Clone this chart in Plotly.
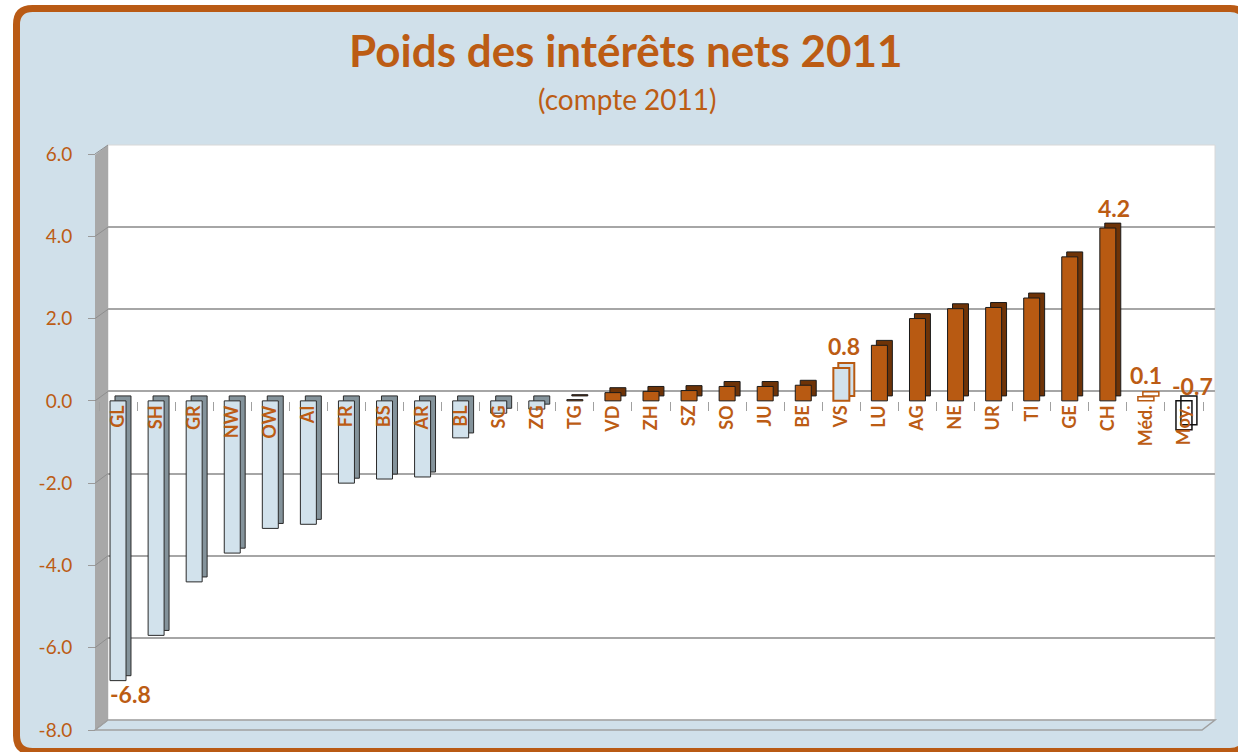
import plotly.graph_objects as go

# ---------------- data ----------------
categories = ["GL", "SH", "GR", "NW", "OW", "AI", "FR", "BS", "AR", "BL", "SG", "ZG",
              "TG", "VD", "ZH", "SZ", "SO", "JU", "BE", "VS", "LU", "AG", "NE", "UR",
              "TI", "GE", "CH", "Méd.", "Moy."]
values = [-6.8, -5.7, -4.4, -3.7, -3.1, -3.0, -2.0, -1.9, -1.85, -0.9, -0.3, -0.2,
          0.03, 0.2, 0.23, 0.25, 0.35, 0.35, 0.38, 0.8, 1.35, 2.0, 2.24, 2.27,
          2.5, 3.5, 4.2, 0.1, -0.7]
labelled = ["GL", "VS", "CH", "Méd.", "Moy."]
y_ticks = [-8, -6, -4, -2, 0, 2, 4, 6]
title = "Poids des intérêts nets 2011"
subtitle = "(compte 2011)"

# ---------------- styles ----------------
W, H = 1238, 752
ML, MR, MT, MB = 94, 23, 145, 22
PW, PH = W - ML - MR, H - MT - MB
ORANGE = "#B85A12"
ORANGE_TXT = "#BC5C14"
SIDE_OR = "#6E3307"
BLUE = "#D2E2EC"
SIDE_BL = "#84939B"
BG = "#D0E0EA"
DEPTH = 0.12
FONT = "Comic Sans MS, Lato, sans-serif"


def px_x(p):
    return (p - ML) / PW


def px_y(p):
    return (H - MB - p) / PH


front_col, side_col, line_col, line_w = [], [], [], []
for c, v in zip(categories, values):
    if c == "VS":
        front_col.append(BLUE); side_col.append(BLUE); line_col.append(ORANGE); line_w.append(2)
    elif c == "Méd.":
        front_col.append("rgba(255,255,255,0)"); side_col.append("rgba(255,255,255,0)")
        line_col.append(ORANGE); line_w.append(1.5)
    elif c == "Moy.":
        front_col.append("rgba(255,255,255,0)"); side_col.append("rgba(255,255,255,0)")
        line_col.append("#111111"); line_w.append(1.5)
    elif v < 0:
        front_col.append(BLUE); side_col.append(SIDE_BL); line_col.append("#2a2a2a"); line_w.append(1)
    else:
        front_col.append(ORANGE); side_col.append(SIDE_OR); line_col.append("#1a1a1a"); line_w.append(1)

fig = go.Figure()

# invisible trace for the back-wall grid subplot
fig.add_trace(go.Scatter(x=[0.5], y=[0], mode="markers", marker=dict(opacity=0),
                         hoverinfo="skip", showlegend=False, xaxis="x", yaxis="y"))

# side/top faces (shifted back)
fig.add_trace(go.Bar(x=categories, y=values, base=DEPTH, offset=-0.08, width=0.42,
                     marker=dict(color=side_col, line=dict(color=line_col, width=line_w)),
                     xaxis="x2", yaxis="y2", showlegend=False, hoverinfo="skip"))
# front faces
fig.add_trace(go.Bar(x=categories, y=values, offset=-0.21, width=0.42,
                     marker=dict(color=front_col, line=dict(color=line_col, width=line_w)),
                     xaxis="x2", yaxis="y2", showlegend=False))

# value labels
lab_style = {"GL": (12, -13), "VS": (3, 22), "CH": (6, 20), "Méd.": (0, 22), "Moy.": (9, 15)}
for c, v in zip(categories, values):
    if c in labelled:
        dx, dy = lab_style[c]
        yv = 0 if c == "Moy." else v
        fig.add_annotation(x=c, y=yv, xref="x2", yref="y2", text=f"{v:.1f}", showarrow=False,
                           xanchor="center", yanchor="middle", xshift=dx, yshift=dy,
                           font=dict(family=FONT, size=23, color=ORANGE_TXT, weight="bold"))

# title & subtitle
fig.add_annotation(x=px_x(626), y=px_y(50), xref="paper", yref="paper", text=title,
                   showarrow=False, xanchor="center", yanchor="middle",
                   font=dict(family=FONT, size=44, color=ORANGE_TXT, weight="bold"))
fig.add_annotation(x=px_x(627), y=px_y(99), xref="paper", yref="paper", text=subtitle,
                   showarrow=False, xanchor="center", yanchor="middle",
                   font=dict(family=FONT, size=28, color=ORANGE_TXT))

# decorative shapes
shapes = []
# outer rounded frame
L, T, R, B, r = 16.5, 8.5, 1246, 751.5, 16
path = (f"M {px_x(L+r)},{px_y(T)} L {px_x(R-r)},{px_y(T)} Q {px_x(R)},{px_y(T)} {px_x(R)},{px_y(T+r)} "
        f"L {px_x(R)},{px_y(B-r)} Q {px_x(R)},{px_y(B)} {px_x(R-r)},{px_y(B)} "
        f"L {px_x(L+r)},{px_y(B)} Q {px_x(L)},{px_y(B)} {px_x(L)},{px_y(B-r)} "
        f"L {px_x(L)},{px_y(T+r)} Q {px_x(L)},{px_y(T)} {px_x(L+r)},{px_y(T)} Z")
shapes.append(dict(type="path", path=path, xref="paper", yref="paper", layer="below",
                   fillcolor=BG, line=dict(color="#B95A14", width=7)))
# back wall
shapes.append(dict(type="rect", xref="paper", yref="paper", layer="below",
                   x0=px_x(108), x1=px_x(1215), y0=px_y(720), y1=px_y(145),
                   fillcolor="white", line=dict(color="#D8D8D8", width=1)))
# left wall
wall = (f"M {px_x(95)},{px_y(155)} L {px_x(108)},{px_y(145)} L {px_x(108)},{px_y(720)} "
        f"L {px_x(95)},{px_y(730)} Z")
shapes.append(dict(type="path", path=wall, xref="paper", yref="paper", layer="below",
                   fillcolor="#A8A8A8", line=dict(width=0)))
for t in y_ticks:
    f = (t + 8) / 14
    shapes.append(dict(type="line", xref="paper", yref="paper", layer="below",
                       x0=px_x(95), y0=px_y(730 - f * 576), x1=px_x(108), y1=px_y(720 - f * 575),
                       line=dict(color="#8E8E8E", width=1)))
# floor
floor = (f"M {px_x(95)},{px_y(730)} L {px_x(108)},{px_y(720)} L {px_x(1215)},{px_y(720)} "
         f"L {px_x(1202)},{px_y(730)} Z")
shapes.append(dict(type="path", path=floor, xref="paper", yref="paper", layer="below",
                   fillcolor="rgba(0,0,0,0)", line=dict(color="#A0A0A0", width=1.5)))

y2_top = px_y(154)
zero_pos = y2_top * (0 - (-8)) / 14

fig.update_layout(
    width=W, height=H,
    margin=dict(l=ML, r=MR, t=MT, b=MB, pad=0),
    paper_bgcolor="white",
    plot_bgcolor="rgba(0,0,0,0)",
    barmode="overlay",
    showlegend=False,
    shapes=shapes,
    xaxis=dict(domain=[px_x(108), 1], range=[0, 1], visible=False, fixedrange=True),
    yaxis=dict(domain=[px_y(720), 1], range=[-8, 6], tickvals=y_ticks, showgrid=True,
               gridcolor="#A6A6A6", gridwidth=1.5, zeroline=False, showticklabels=False,
               ticks="", showline=False, anchor="x"),
    xaxis2=dict(domain=[px_x(99), px_x(1203)], type="category", categoryorder="array",
                categoryarray=categories, range=[-0.5, len(categories) - 0.5],
                anchor="free", position=zero_pos, showgrid=False, zeroline=False,
                showline=False, ticks="outside", tickson="boundaries", ticklen=9,
                tickcolor="#A0A0A0", tickwidth=1, tickangle=-90,
                tickfont=dict(family=FONT, size=18, color=ORANGE_TXT, weight="bold")),
    yaxis2=dict(domain=[0, y2_top], range=[-8, 6], tickvals=y_ticks,
                ticktext=[f"{t:.1f}" for t in y_ticks],
                anchor="free", position=px_x(95), showgrid=False, zeroline=False,
                showline=False, ticks="outside", ticklen=7, tickcolor="#9A9A9A",
                ticklabelstandoff=12,
                tickfont=dict(family="Lato, sans-serif", size=19, color=ORANGE_TXT)),
)

fig.write_html("out.html", config={"displayModeBar": False},
               post_script="document.body.style.margin='0px';document.body.style.overflow='hidden';")
